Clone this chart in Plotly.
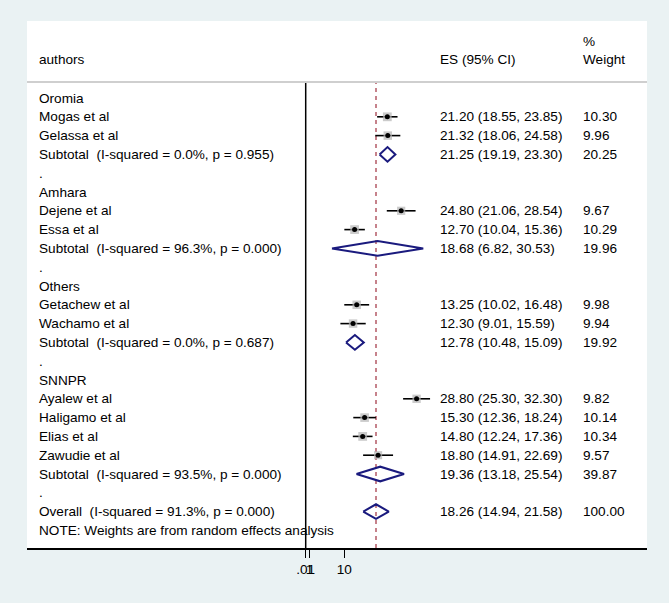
import plotly.graph_objects as go

W, H = 669, 603
BG = "#EAF2F3"
FONT = "Liberation Sans, Arial, sans-serif"
FS = 13.6

# ── Data ────────────────────────────────────────────────────────────────
labels = [
    "Oromia", "Mogas et al", "Gelassa et al",
    "Subtotal\u00a0 (I-squared = 0.0%, p = 0.955)", ".",
    "Amhara", "Dejene et al", "Essa et al",
    "Subtotal\u00a0 (I-squared = 96.3%, p = 0.000)", ".",
    "Others", "Getachew et al", "Wachamo et al",
    "Subtotal\u00a0 (I-squared = 0.0%, p = 0.687)", ".",
    "SNNPR", "Ayalew et al", "Haligamo et al", "Elias et al", "Zawudie et al",
    "Subtotal\u00a0 (I-squared = 93.5%, p = 0.000)", ".",
    "Overall\u00a0 (I-squared = 91.3%, p = 0.000)",
    "NOTE: Weights are from random effects analysis",
]

# study rows
study_rows = [1, 2, 6, 7, 11, 12, 16, 17, 18, 19]
study_es   = [21.20, 21.32, 24.80, 12.70, 13.25, 12.30, 28.80, 15.30, 14.80, 18.80]
study_lo   = [18.55, 18.06, 21.06, 10.04, 10.02,  9.01, 25.30, 12.36, 12.24, 14.91]
study_hi   = [23.85, 24.58, 28.54, 15.36, 16.48, 15.59, 32.30, 18.24, 17.36, 22.69]
study_w    = [10.30,  9.96,  9.67, 10.29,  9.98,  9.94,  9.82, 10.14, 10.34,  9.57]

# pooled rows (subtotals + overall)
pool_rows = [3, 8, 13, 20, 22]
pool_es   = [21.25, 18.68, 12.78, 19.36, 18.26]
pool_lo   = [19.19,  6.82, 10.48, 13.18, 14.94]
pool_hi   = [23.30, 30.53, 15.09, 25.54, 21.58]
pool_w    = [20.25, 19.96, 19.92, 39.87, 100.00]

overall_es = 18.26

tick_vals = [0.01, 1, 10]
tick_text = [".01", "1", "10"]

# ── Layout geometry (pixels) ─────────────────────────────────────────────
BOX_L, BOX_R, BOX_T, BOX_B = 27, 647, 21, 548
HEAD_Y = 82
ROW0_Y, ROW_H = 98, 18.8
X0_PX, PX_PER_UNIT = 305.7, 3.85
COL_AUTH, COL_ES, COL_W = 37, 438, 581

def px(xp):
    return xp / W

def py(yp):
    return 1 - yp / H

x_range = [(BOX_L - X0_PX) / PX_PER_UNIT, (BOX_R - X0_PX) / PX_PER_UNIT]
y_range = [(BOX_B - ROW0_Y) / ROW_H, (0 - ROW0_Y) / ROW_H]

fig = go.Figure()

# CI lines
ci_x, ci_y = [], []
for r, lo, hi in zip(study_rows, study_lo, study_hi):
    ci_x += [lo, hi, None]
    ci_y += [r, r, None]
fig.add_trace(go.Scatter(x=ci_x, y=ci_y, mode="lines",
                         line=dict(color="black", width=1.6),
                         hoverinfo="skip", showlegend=False))

# weight boxes
fig.add_trace(go.Scatter(x=study_es, y=study_rows, mode="markers",
                         marker=dict(symbol="square", size=[w * 0.85 for w in study_w],
                                     color="#b5b5b5", line=dict(width=0)),
                         hoverinfo="skip", showlegend=False))
# point estimates
fig.add_trace(go.Scatter(x=study_es, y=study_rows, mode="markers",
                         marker=dict(symbol="circle", size=5, color="black"),
                         hoverinfo="skip", showlegend=False))

# diamonds
HALF = 0.39
d_x, d_y = [], []
for r, es, lo, hi in zip(pool_rows, pool_es, pool_lo, pool_hi):
    d_x += [lo, es, hi, es, lo, None]
    d_y += [r, r - HALF, r, r + HALF, r, None]
fig.add_trace(go.Scatter(x=d_x, y=d_y, mode="lines",
                         line=dict(color="#1a1a7e", width=2),
                         hoverinfo="skip", showlegend=False))

shapes = [
    # white plot region
    dict(type="rect", xref="paper", yref="paper",
         x0=px(BOX_L), x1=px(BOX_R), y0=py(BOX_B), y1=py(BOX_T),
         fillcolor="white", line=dict(width=0), layer="below"),
    # header rule
    dict(type="line", xref="paper", yref="paper",
         x0=px(BOX_L), x1=px(BOX_R), y0=py(HEAD_Y), y1=py(HEAD_Y),
         line=dict(color="#cfcfcf", width=2)),
    # null line
    dict(type="line", xref="x", yref="paper", x0=0, x1=0,
         y0=py(BOX_B), y1=py(HEAD_Y + 1), line=dict(color="black", width=1.5)),
    # overall effect line
    dict(type="line", xref="x", yref="paper", x0=overall_es, x1=overall_es,
         y0=py(BOX_B), y1=py(HEAD_Y + 1),
         line=dict(color="#a8404e", width=1.3, dash="4px,4px"), layer="below"),
]

txt = dict(family=FONT, size=FS, color="black")
ann = []
def add_text(x_px, y_val, s, yref="y"):
    ann.append(dict(x=px(x_px), y=y_val, xref="paper", yref=yref, text=s,
                    showarrow=False, xanchor="left", yanchor="middle", font=txt))

add_text(COL_AUTH, py(60), "authors", "paper")
add_text(COL_ES, py(60), "ES (95% CI)", "paper")
add_text(COL_W, py(41), "%", "paper")
add_text(COL_W, py(60), "Weight", "paper")

for i, s in enumerate(labels):
    add_text(COL_AUTH, i, s)
for r, es, lo, hi, w in zip(study_rows + pool_rows, study_es + pool_es,
                            study_lo + pool_lo, study_hi + pool_hi, study_w + pool_w):
    add_text(COL_ES, r, f"{es:.2f} ({lo:.2f}, {hi:.2f})")
    add_text(COL_W, r, f"{w:.2f}")

fig.update_layout(
    width=W, height=H,
    margin=dict(l=0, r=0, t=0, b=0),
    paper_bgcolor=BG, plot_bgcolor="rgba(0,0,0,0)",
    shapes=shapes, annotations=ann,
    xaxis=dict(domain=[px(BOX_L), px(BOX_R)], range=x_range,
               showgrid=False, zeroline=False, showline=True,
               linecolor="black", linewidth=1.5,
               ticks="outside", ticklen=8, tickwidth=1.3, tickcolor="black",
               tickangle=0,
               tickvals=tick_vals, ticktext=tick_text,
               tickfont=dict(family=FONT, size=FS, color="black")),
    yaxis=dict(domain=[py(BOX_B), 1], range=y_range, visible=False),
    showlegend=False,
)

# page body has an 8px default margin; drop it so the figure sits at 0,0
fig.write_html("out.html", config={"displayModeBar": False},
               post_script="document.body.style.margin='0';")
